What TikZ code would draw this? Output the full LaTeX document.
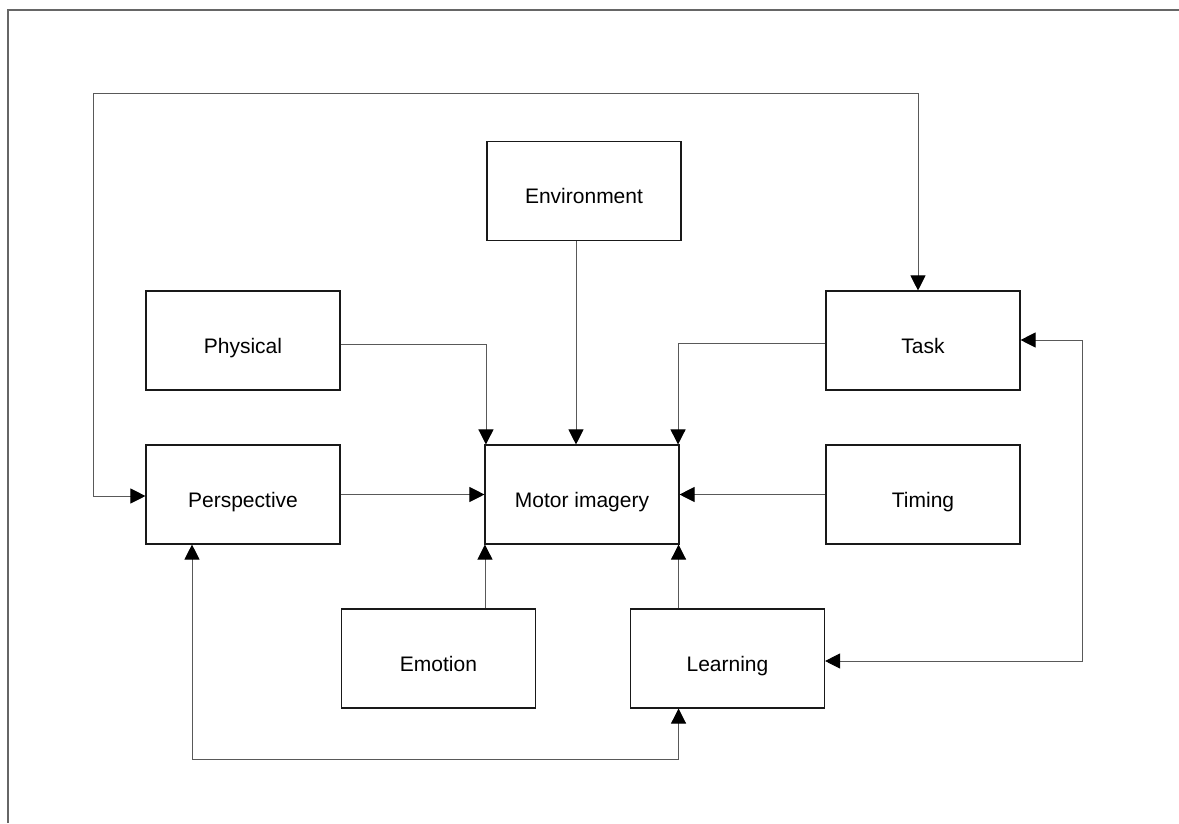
\documentclass[tikz,border=0pt]{standalone}
\usepackage{fontspec}
\setmainfont{Liberation Sans}
\usetikzlibrary{arrows.meta}
\begin{document}
\begin{tikzpicture}[x=1pt,y=-1pt,
  factor/.style={draw=black!90, line width=1.1pt, rectangle,
    minimum width=194pt, minimum height=99pt, inner sep=0pt,
    font=\fontsize{21}{25}\selectfont, text height=25pt, text depth=0pt},
  link/.style={draw=black!65, line width=0.9pt},
  tip/.style={-{Triangle[length=15pt,width=15pt,color=black]}},
  tips/.style={{Triangle[length=15pt,width=15pt,color=black]}-{Triangle[length=15pt,width=15pt,color=black]}}]
  \useasboundingbox (0,0) rectangle (1179,823);
  % outer frame (top and left edges)
  \draw[draw=black!60, line width=2pt] (8,823) -- (8,10) -- (1179,10);

  % factor boxes
  \node[factor] (env)    at (584,191)   {Environment};
  \node[factor] (phys)   at (243,340.5) {Physical};
  \node[factor] (task)   at (923,340.5) {Task};
  \node[factor] (motor)  at (582,494.5) {Motor imagery};
  \node[factor] (persp)  at (243,494.5) {Perspective};
  \node[factor] (timing) at (923,494.5) {Timing};
  \node[factor] (emo)    at (438.5,658.5) {Emotion};
  \node[factor] (learn)  at (727.5,658.5) {Learning};

  % routing corners
  \coordinate (loopTL) at (93,93);
  \coordinate (loopBL) at (192,759);
  \coordinate (loopR)  at (1082,661);

  % links into motor imagery
  \draw[link,tip] ([yshift=-3.5pt]phys.east) -| ([xshift=1.5pt]motor.north west);
  \draw[link,tip] ([xshift=-8pt]env.south) -- ([xshift=-8pt]env.south |- motor.north);
  \draw[link,tip] ([yshift=-3pt]task.west) -| ([xshift=-1.5pt]motor.north east);
  \draw[link,tip] (persp.east) -- (motor.west);
  \draw[link,tip] (timing.west) -- (motor.east);
  \draw[link,tip] ([xshift=0.5pt]motor.south west |- emo.north) -- ([xshift=0.5pt]motor.south west);
  \draw[link,tip] ([xshift=-1pt]motor.south east |- learn.north) -- ([xshift=-1pt]motor.south east);

  % feedback loops
  \draw[link,tips] ([yshift=-1.5pt]persp.west) -| (loopTL) -| ([xshift=-5pt]task.north);
  \draw[link,tips] (persp.south -| loopBL) -- (loopBL) -| ([xshift=-1pt]motor.south east |- learn.south);
  \draw[link,tips] ([yshift=0.5pt]task.east) -| (loopR) -- (loopR -| learn.east);
\end{tikzpicture}
\end{document}
